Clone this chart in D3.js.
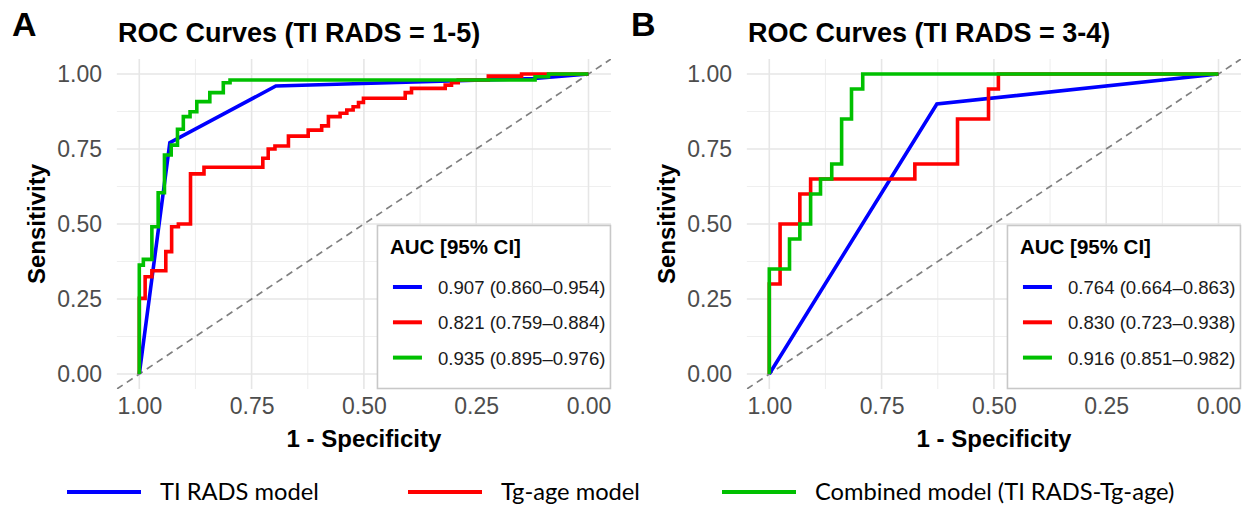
<!DOCTYPE html>
<html>
<head>
<meta charset="utf-8">
<script src="https://cdn.jsdelivr.net/npm/d3@7"></script>
<style>
  html, body { margin: 0; padding: 0; background: #fff; }
  svg { display: block; }
</style>
</head>
<body>
<svg id="chart" width="1248" height="509"></svg>
<script>
// ---------------- DATA ----------------
const panelLetters = ["A", "B"];
const panelTitles = ["ROC Curves (TI RADS = 1-5)", "ROC Curves (TI RADS = 3-4)"];
const seriesNames = ["TI RADS model", "Tg-age model", "Combined model (TI RADS-Tg-age)"];
const seriesColors = ["#0000FF", "#FF0000", "#00C000"];
const tickValues = [1.00, 0.75, 0.50, 0.25, 0.00];
const tickLabels = ["1.00", "0.75", "0.50", "0.25", "0.00"];
const minorTicks = [0.125, 0.375, 0.625, 0.875];
const xAxisTitle = "1 - Specificity";
const yAxisTitle = "Sensitivity";
const legendTitle = "AUC [95% CI]";

// Panel A AUC labels
const aucLabelsA = ["0.907 (0.860\u20130.954)", "0.821 (0.759\u20130.884)", "0.935 (0.895\u20130.976)"];
// Panel B AUC labels
const aucLabelsB = ["0.764 (0.664\u20130.863)", "0.830 (0.723\u20130.938)", "0.916 (0.851\u20130.982)"];

// Panel A, TI RADS model
const specA_tirads = [1, 0.932, 0.696, 0.12, 0];
const sensA_tirads = [0, 0.771, 0.960, 0.985, 1];
// Panel A, Tg-age model
const specA_tg = [1, 1, 0.987, 0.987, 0.972, 0.972, 0.941, 0.941, 0.928, 0.928, 0.913, 0.913, 0.886, 0.886, 0.856, 0.856,
  0.725, 0.725, 0.713, 0.713, 0.698, 0.698, 0.668, 0.668, 0.624, 0.624, 0.594, 0.594, 0.579, 0.579, 0.553, 0.553,
  0.538, 0.538, 0.524, 0.524, 0.512, 0.512, 0.501, 0.501, 0.408, 0.408, 0.394, 0.394, 0.319, 0.319, 0.305, 0.305,
  0.290, 0.290, 0.223, 0.223, 0.149, 0.149, 0];
const sensA_tg = [0, 0.252, 0.252, 0.324, 0.324, 0.344, 0.344, 0.408, 0.408, 0.491, 0.491, 0.500, 0.500, 0.667, 0.667, 0.689,
  0.689, 0.719, 0.719, 0.750, 0.750, 0.760, 0.760, 0.793, 0.793, 0.813, 0.813, 0.827, 0.827, 0.858, 0.858, 0.869,
  0.869, 0.880, 0.880, 0.891, 0.891, 0.905, 0.905, 0.919, 0.919, 0.938, 0.938, 0.952, 0.952, 0.963, 0.963, 0.971,
  0.971, 0.980, 0.980, 0.993, 0.993, 1, 1];
// Panel A, Combined model
const specA_comb = [1, 1, 0.991, 0.991, 0.972, 0.972, 0.958, 0.958, 0.944, 0.944, 0.929, 0.929, 0.915, 0.915, 0.902, 0.902,
  0.887, 0.887, 0.872, 0.872, 0.843, 0.843, 0.813, 0.813, 0.798, 0.798, 0.119, 0.119, 0.089, 0.089, 0];
const sensA_comb = [0, 0.363, 0.363, 0.382, 0.382, 0.491, 0.491, 0.604, 0.604, 0.730, 0.730, 0.763, 0.763, 0.816, 0.816, 0.858,
  0.858, 0.874, 0.874, 0.908, 0.908, 0.938, 0.938, 0.971, 0.971, 0.980, 0.980, 0.991, 0.991, 1, 1];

// Panel B, TI RADS model
const specB_tirads = [1, 0.627, 0];
const sensB_tirads = [0, 0.900, 1];
// Panel B, Tg-age model
const specB_tg = [1, 1, 0.976, 0.976, 0.932, 0.932, 0.908, 0.908, 0.676, 0.676, 0.581, 0.581, 0.512, 0.512, 0.490, 0.490, 0];
const sensB_tg = [0, 0.30, 0.30, 0.50, 0.50, 0.60, 0.60, 0.65, 0.65, 0.70, 0.70, 0.85, 0.85, 0.95, 0.95, 1, 1];
// Panel B, Combined model
const specB_comb = [1, 1, 0.955, 0.955, 0.932, 0.932, 0.908, 0.908, 0.886, 0.886, 0.861, 0.861, 0.839, 0.839, 0.817, 0.817, 0.792, 0.792, 0];
const sensB_comb = [0, 0.35, 0.35, 0.45, 0.45, 0.50, 0.50, 0.60, 0.60, 0.65, 0.65, 0.70, 0.70, 0.85, 0.85, 0.95, 0.95, 1, 1];

// ---------------- BUILD ----------------
const zip = (s, t) => s.map((v, i) => ({ spec: v, sens: t[i] }));
const panels = [
  { letter: panelLetters[0], title: panelTitles[0], auc: aucLabelsA,
    series: [zip(specA_tirads, sensA_tirads), zip(specA_tg, sensA_tg), zip(specA_comb, sensA_comb)],
    x0: 139.3, x1: 588.5, letterX: 12, titleX: 118, ytextRight: 102, ytitleX: 37 },
  { letter: panelLetters[1], title: panelTitles[1], auc: aucLabelsB,
    series: [zip(specB_tirads, sensB_tirads), zip(specB_tg, sensB_tg), zip(specB_comb, sensB_comb)],
    x0: 769.3, x1: 1218.5, letterX: 631, titleX: 748, ytextRight: 732, ytitleX: 667 }
];

const svg = d3.select("#chart");
const FONT = "'Liberation Sans', Arial, sans-serif";
const yTop = 74, yBot = 374;

panels.forEach((p, pi) => {
  const x = d3.scaleLinear().domain([1, 0]).range([p.x0, p.x1]);
  const y = d3.scaleLinear().domain([0, 1]).range([yBot, yTop]);
  const padX = (p.x1 - p.x0) * 0.05, padY = (yBot - yTop) * 0.05;
  const L = p.x0 - padX, R = p.x1 + padX, T = yTop - padY, B = yBot + padY;

  const g = svg.append("g");

  // minor grid
  g.append("g").selectAll("line").data(minorTicks).join("line")
    .attr("x1", d => x(d)).attr("x2", d => x(d)).attr("y1", T).attr("y2", B)
    .attr("stroke", "#EFEFEF").attr("stroke-width", 1.1);
  g.append("g").selectAll("line").data(minorTicks).join("line")
    .attr("y1", d => y(d)).attr("y2", d => y(d)).attr("x1", L).attr("x2", R)
    .attr("stroke", "#EFEFEF").attr("stroke-width", 1.1);
  // major grid
  g.append("g").selectAll("line").data(tickValues).join("line")
    .attr("x1", d => x(d)).attr("x2", d => x(d)).attr("y1", T).attr("y2", B)
    .attr("stroke", "#E6E6E6").attr("stroke-width", 1.6);
  g.append("g").selectAll("line").data(tickValues).join("line")
    .attr("y1", d => y(d)).attr("y2", d => y(d)).attr("x1", L).attr("x2", R)
    .attr("stroke", "#E6E6E6").attr("stroke-width", 1.6);

  // axes (labels only)
  const xa = g.append("g").attr("transform", `translate(0,${B})`)
    .call(d3.axisBottom(x).tickValues(tickValues).tickFormat((d, i) => tickLabels[i]).tickSize(0).tickPadding(9));
  const ya = g.append("g").attr("transform", `translate(${p.ytextRight},0)`)
    .call(d3.axisLeft(y).tickValues(tickValues).tickFormat((d, i) => tickLabels[i]).tickSize(0).tickPadding(0));
  [xa, ya].forEach(a => {
    a.select(".domain").remove();
    a.selectAll("text").attr("font-family", FONT).attr("font-size", 23).attr("fill", "#4D4D4D");
  });

  // clip
  const clipId = "clip" + pi;
  svg.append("clipPath").attr("id", clipId).append("rect")
    .attr("x", L).attr("y", T).attr("width", R - L).attr("height", B - T);
  const plot = g.append("g").attr("clip-path", `url(#${clipId})`);

  // diagonal reference
  plot.append("line")
    .attr("x1", x(1.05)).attr("y1", y(-0.05)).attr("x2", x(-0.05)).attr("y2", y(1.05))
    .attr("stroke", "#808080").attr("stroke-width", 1.7).attr("stroke-dasharray", "7,5");

  // curves
  const line = d3.line().x(d => x(d.spec)).y(d => y(d.sens));
  p.series.forEach((s, si) => {
    plot.append("path").datum(s).attr("d", line)
      .attr("fill", "none").attr("stroke", seriesColors[si]).attr("stroke-width", 3.6)
      .attr("stroke-linejoin", "miter");
  });

  // inner legend
  const boxW = 234, boxH = 164;
  const bx = R - boxW, by = B - boxH;
  const lg = g.append("g").attr("transform", `translate(${bx},${by})`);
  lg.append("rect").attr("x", 0.5).attr("y", 0.5).attr("width", boxW - 1).attr("height", boxH - 1)
    .attr("fill", "#fff").attr("stroke", "#C8C8C8").attr("stroke-width", 1.6);
  lg.append("text").attr("x", 13).attr("y", 29).text(legendTitle)
    .attr("font-family", FONT).attr("font-weight", "bold").attr("font-size", 20.5).attr("fill", "#000");
  p.auc.forEach((t, i) => {
    const cy = 62 + i * 35.3;
    lg.append("line").attr("x1", 16).attr("x2", 45).attr("y1", cy).attr("y2", cy)
      .attr("stroke", seriesColors[i]).attr("stroke-width", 4);
    lg.append("text").attr("x", 61).attr("y", cy + 7).text(t)
      .attr("font-family", FONT).attr("font-size", 18.6).attr("fill", "#1A1A1A");
  });

  // titles
  g.append("text").attr("x", p.titleX).attr("y", 42).text(p.title)
    .attr("font-family", FONT).attr("font-weight", "bold").attr("font-size", 27).attr("fill", "#000");
  g.append("text").attr("x", p.letterX).attr("y", 36).text(p.letter)
    .attr("font-family", FONT).attr("font-weight", "bold").attr("font-size", 34).attr("fill", "#000");
  g.append("text").attr("x", (p.x0 + p.x1) / 2).attr("y", 447).attr("text-anchor", "middle").text(xAxisTitle)
    .attr("font-family", FONT).attr("font-weight", "bold").attr("font-size", 24).attr("fill", "#000");
  g.append("text").attr("transform", `translate(${p.ytitleX},${(yTop + yBot) / 2}) rotate(-90)`)
    .attr("text-anchor", "middle").attr("dy", "0.35em").text(yAxisTitle)
    .attr("font-family", FONT).attr("font-weight", "bold").attr("font-size", 24).attr("fill", "#000");
});

// bottom legend
const legX = [67, 408, 722];
const leg = svg.append("g");
seriesNames.forEach((n, i) => {
  leg.append("line").attr("x1", legX[i]).attr("x2", legX[i] + 74).attr("y1", 492).attr("y2", 492)
    .attr("stroke", seriesColors[i]).attr("stroke-width", 4);
  leg.append("text").attr("x", legX[i] + 93).attr("y", 492).attr("dy", "0.35em").text(n)
    .attr("font-family", "Lato, 'Open Sans', sans-serif").attr("font-size", 23.7).attr("fill", "#000");
});
</script>
</body>
</html>
